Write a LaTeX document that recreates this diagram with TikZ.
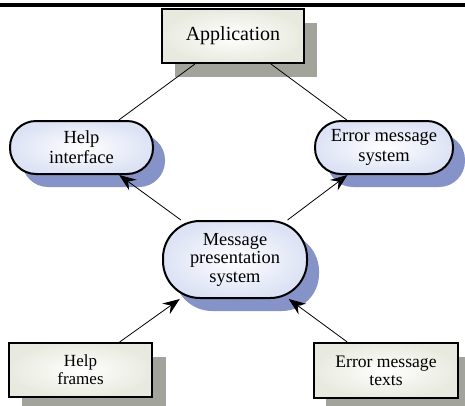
\documentclass[tikz,border=0pt]{standalone}
\usepackage{fontspec}
\setmainfont{Liberation Serif}
\usetikzlibrary{arrows.meta,shadows}
\definecolor{rectfill}{HTML}{E9EADF}
\definecolor{rectshadow}{HTML}{A2A49C}
\definecolor{pillfill}{HTML}{DDE3F5}
\definecolor{pillshadow}{HTML}{8593C8}
\tikzset{
  boxnode/.style={draw=black, line width=2pt, rectangle, inner sep=0pt, align=center,
    shading=radial, inner color=white, outer color=rectfill,
    drop shadow={shadow xshift=13pt, shadow yshift=-13.5pt, fill=rectshadow, opacity=1}},
  pillnode/.style={draw=black, line width=2pt, rectangle, inner sep=0pt, align=center,
    shading=radial, inner color=white, outer color=pillfill,
    drop shadow={shadow xshift=12pt, shadow yshift=-13pt, fill=pillshadow, opacity=1}},
  link/.style={draw=black, line width=0.8pt},
  arrowlink/.style={link, -{Stealth[length=17pt,width=13pt,inset=6pt]}}
}
\begin{document}
\begin{tikzpicture}[x=1pt,y=-1pt]
\useasboundingbox (0,0) rectangle (465,405);
\fill[black] (0,3) rectangle (465,7.3);

\node[boxnode, minimum width=142pt, minimum height=54pt,
  font=\fontsize{20}{22}\selectfont] (app) at (233,36) {Application};

\node[pillnode, minimum width=143pt, minimum height=53pt, rounded corners=26pt,
  font=\fontsize{18.5}{20}\selectfont] (hi) at (81.5,147.5) {Help\\interface};

\node[pillnode, minimum width=138pt, minimum height=53pt, rounded corners=26pt,
  font=\fontsize{18.5}{20}\selectfont] (ems) at (384,147.5) {Error message\\system};

\node[pillnode, minimum width=144pt, minimum height=77pt, rounded corners=37pt,
  drop shadow={shadow xshift=11pt, shadow yshift=-12pt, fill=pillshadow, opacity=1},
  font=\fontsize{18.4}{18.5}\selectfont] (mps) at (235,259.5) {Message\\presentation\\system};

\node[boxnode, minimum width=143pt, minimum height=54pt,
  drop shadow={shadow xshift=14pt, shadow yshift=-14pt, fill=rectshadow, opacity=1},
  font=\fontsize{17}{18.3}\selectfont] (hf) at (80.5,370) {Help\\frames};

\node[boxnode, minimum width=144pt, minimum height=55pt,
  drop shadow={shadow xshift=12pt, shadow yshift=-14pt, fill=rectshadow, opacity=1},
  font=\fontsize{17.6}{18.3}\selectfont] (emt) at (386,370.5) {Error message\\texts};

\draw[link] (app) -- (hi);
\draw[link] (app) -- (ems);
\draw[arrowlink] (mps) -- (hi);
\draw[arrowlink] (mps) -- (ems);
\draw[arrowlink] (hf) -- (mps);
\draw[arrowlink] (emt) -- (mps);
\end{tikzpicture}
\end{document}
